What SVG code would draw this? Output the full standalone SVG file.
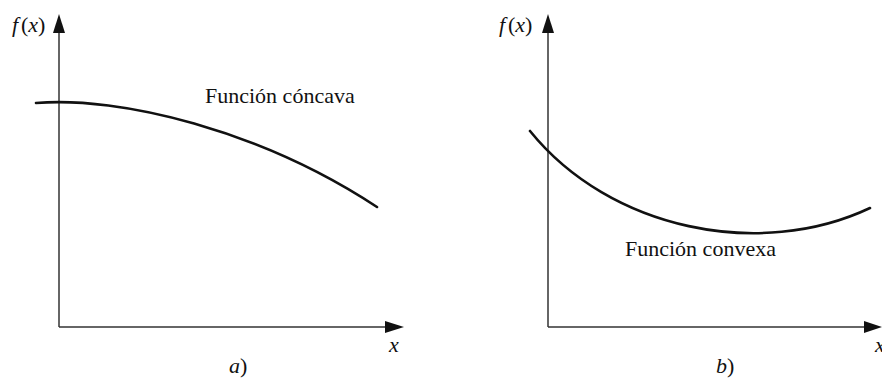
<svg xmlns="http://www.w3.org/2000/svg" width="882" height="380" viewBox="0 0 882 380" font-family="'Liberation Serif', 'DejaVu Serif', serif">
<style>
.ax{stroke:#333;stroke-width:1.5;fill:none}
.cv{stroke:#111;stroke-width:2.6;fill:none;stroke-linecap:round}
.t{font-family:'Liberation Serif','DejaVu Serif',serif;font-size:22px;fill:#111}
.it{font-style:italic}
.ah{fill:#111}
</style>
<g id="connectors">
<line class="ax" x1="59" y1="327" x2="59" y2="30"/>
<polygon class="ah" points="59,14 53,33 65,33"/>
<line class="ax" x1="59" y1="327" x2="390" y2="327"/>
<polygon class="ah" points="404,327 385,321 385,333"/>
<line class="ax" x1="548" y1="327" x2="548" y2="30"/>
<polygon class="ah" points="548,14 542,33 554,33"/>
<line class="ax" x1="548" y1="327" x2="868" y2="327"/>
<polygon class="ah" points="882,327 864,321 864,333"/>
</g>
<g id="concave">
<path class="cv" d="M36,103 C120,96 260,130 377,207"/>
<text class="t" x="205" y="103">Función cóncava</text>
</g>
<g id="convex">
<path class="cv" d="M530,131 C610,230 760,260 870,208"/>
<text class="t" x="625" y="256">Función convexa</text>
</g>
<g id="labels">
<text class="t it" x="12" y="32">f</text><text class="t" x="21" y="32">(<tspan class="it">x</tspan>)</text>
<text class="t it" x="499" y="32">f</text><text class="t" x="508" y="32">(<tspan class="it">x</tspan>)</text>
<text class="t it" x="389" y="352">x</text>
<text class="t it" x="875" y="352">x</text>
<text class="t" x="229" y="373"><tspan class="it">a</tspan>)</text>
<text class="t" x="716" y="373"><tspan class="it">b</tspan>)</text>
</g>
</svg>
